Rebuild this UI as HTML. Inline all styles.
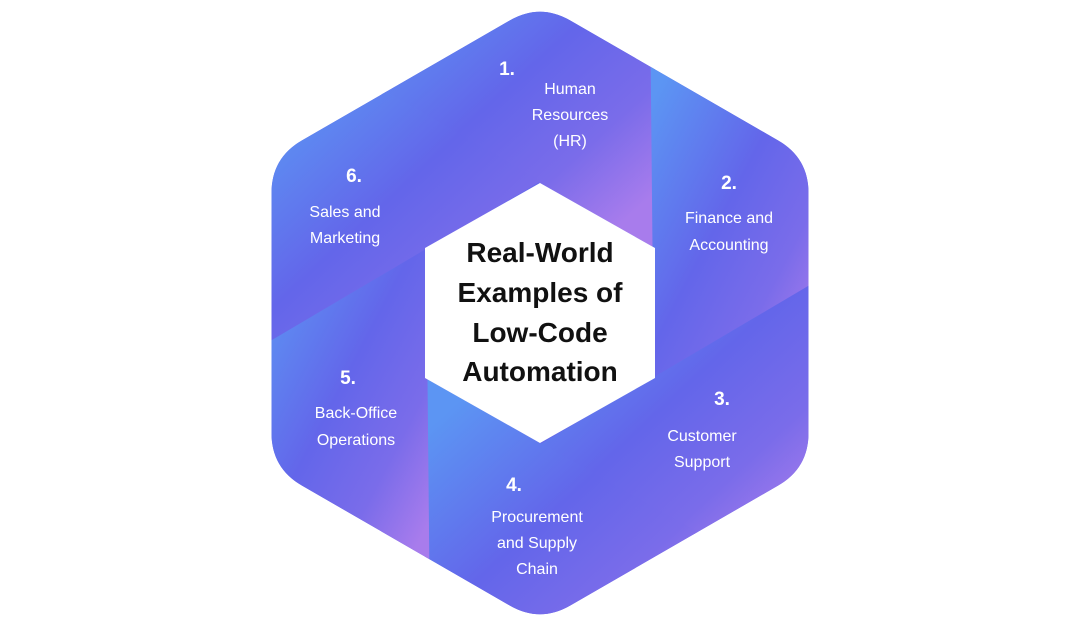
<!DOCTYPE html>
<html><head><meta charset="utf-8"><style>
html,body{margin:0;padding:0;background:#fff;width:1080px;height:628px;overflow:hidden}
svg{display:block}
.n{font-family:"Liberation Sans",sans-serif;font-weight:bold;font-size:19px;fill:#fff;text-anchor:middle}
.l{font-family:"Liberation Sans",sans-serif;font-size:16px;fill:#fff;text-anchor:middle}
.t{font-family:"Liberation Sans",sans-serif;font-weight:bold;font-size:28px;fill:#111;text-anchor:middle}
</style></head><body>
<svg width="1080" height="628" viewBox="0 0 1080 628" xmlns="http://www.w3.org/2000/svg">
<defs>
<clipPath id="hex"><path d="M509.7,20.5 Q540,3 570.3,20.5 L778.2,140.5 Q808.5,158 808.5,193 L808.5,433 Q808.5,468 778.2,485.5 L570.3,605.5 Q540,623 509.7,605.5 L301.8,485.5 Q271.5,468 271.5,433 L271.5,193 Q271.5,158 301.8,140.5 Z"/></clipPath>
<linearGradient id="g" x1="0.1" y1="0.1" x2="0.9" y2="0.9">
<stop offset="0" stop-color="#5c95f3"/><stop offset="0.45" stop-color="#6366ea"/><stop offset="0.75" stop-color="#7a6cea"/><stop offset="1" stop-color="#a87cec"/></linearGradient>
</defs>
<g clip-path="url(#hex)">
<rect x="260" y="0" width="560" height="628" fill="#6468ea"/>
<g fill="url(#g)">
<polygon points="354.7,78.6 540,-23 655,48 655,248"/>
<polygon points="650.4,35.3 831,145 827,280.1 653.8,380"/>
<polygon points="835.7,269.7 831,481 712,545.1 538.8,445"/>
<polygon points="725.3,547.4 540,649 425,578 425,378"/>
<polygon points="429.6,590.7 249,481 253,345.9 426.2,246"/>
<polygon points="244.3,356.3 249,145 368,80.9 541.2,181"/>
</g>
</g>
<polygon points="540,183 655,248 655,378 540,443 425,378 425,248" fill="#fff"/>
<text class="t" x="540" y="262">Real-World</text>
<text class="t" x="540" y="302">Examples of</text>
<text class="t" x="540" y="342">Low-Code</text>
<text class="t" x="540" y="381">Automation</text>
<text class="n" x="507" y="75">1.</text>
<text class="l" x="570" y="94">Human</text><text class="l" x="570" y="120">Resources</text><text class="l" x="570" y="146">(HR)</text>
<text class="n" x="729" y="189">2.</text>
<text class="l" x="729" y="223">Finance and</text><text class="l" x="729" y="250">Accounting</text>
<text class="n" x="722" y="405">3.</text>
<text class="l" x="702" y="441">Customer</text><text class="l" x="702" y="467">Support</text>
<text class="n" x="514" y="491">4.</text>
<text class="l" x="537" y="522">Procurement</text><text class="l" x="537" y="548">and Supply</text><text class="l" x="537" y="574">Chain</text>
<text class="n" x="348" y="384">5.</text>
<text class="l" x="356" y="418">Back-Office</text><text class="l" x="356" y="445">Operations</text>
<text class="n" x="354" y="182">6.</text>
<text class="l" x="345" y="217">Sales and</text><text class="l" x="345" y="243">Marketing</text>
</svg>
</body></html>
